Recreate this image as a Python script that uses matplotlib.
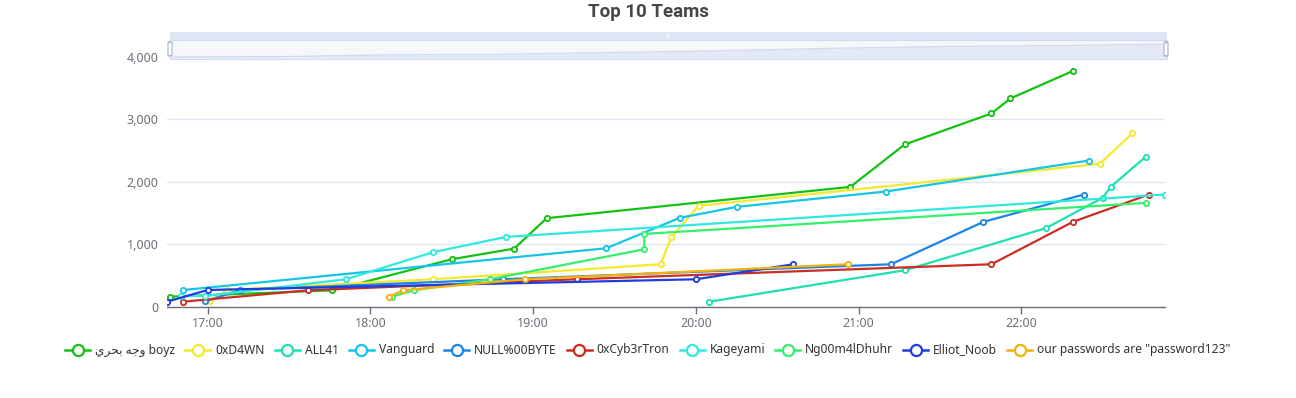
import matplotlib
matplotlib.use("Agg")
import matplotlib.pyplot as plt
import matplotlib.dates as mdates
from matplotlib.patches import Rectangle, FancyBboxPatch, Polygon
from matplotlib.lines import Line2D
from datetime import datetime
import numpy as np

# ---------------- data ----------------
teams = ["وجه بحري boyz", "0xD4WN", "ALL41", "Vanguard", "NULL%00BYTE", "0xCyb3rTron",
         "Kageyami", "Ng00m4lDhuhr", "Elliot_Noob", 'our passwords are "password123"']

boyz_t = ["16:46", "17:46", "18:30", "18:53", "19:05", "20:57", "21:17", "21:49", "21:56", "22:19"]
boyz_v = [165, 267, 763, 933, 1419, 1920, 2597, 3093, 3333, 3771]

d4wn_t = ["17:01", "17:07", "18:23", "19:47", "19:51", "20:01", "22:29", "22:41"]
d4wn_v = [88, 272, 443, 683, 1115, 1616, 2288, 2779]

all41_t = ["20:05", "21:17", "22:09", "22:30", "22:33", "22:46"]
all41_v = [85, 587, 1259, 1744, 1920, 2405]

vanguard_t = ["16:51", "19:27", "19:54", "20:15", "21:10", "22:25"]
vanguard_v = [272, 939, 1424, 1600, 1845, 2341]

null_t = ["16:59", "17:12", "18:49", "21:12", "21:46", "22:23"]
null_v = [88, 272, 443, 683, 1360, 1797]

cyb_t = ["16:51", "17:37", "19:16", "21:49", "22:19", "22:47"]
cyb_v = [85, 267, 443, 683, 1360, 1797]

kage_t = ["16:50", "16:59", "17:51", "18:23", "18:50", "22:53"]
kage_v = [176, 176, 443, 875, 1120, 1797]

ng_t = ["18:08", "18:16", "18:44", "19:41", "19:41", "22:46"]
ng_v = [165, 267, 443, 923, 1168, 1664]

elliot_t = ["16:45", "17:00", "20:00", "20:36"]
elliot_v = [85, 272, 443, 683]

pw_t = ["18:07", "18:12", "18:57", "20:56"]
pw_v = [165, 267, 443, 683]

series_t = [boyz_t, d4wn_t, all41_t, vanguard_t, null_t, cyb_t, kage_t, ng_t, elliot_t, pw_t]
series_v = [boyz_v, d4wn_v, all41_v, vanguard_v, null_v, cyb_v, kage_v, ng_v, elliot_v, pw_v]

colors = ["#12c112", "#f4e92c", "#1fe0b2", "#14c5e6", "#1c84e6", "#cc2d22",
          "#30e9de", "#35f06c", "#1f3ddf", "#f1b20c"]

y_ticks = [0, 1000, 2000, 3000, 4000]
title = "Top 10 Teams"

# display form of Arabic label (shaped presentation forms, visual order)
display_label = {"وجه بحري boyz": "\uFEF1\uFEAE\uFEA4\uFE91 \uFEEA\uFE9F\uFEED boyz"}

# ---------------- figure ----------------
W, H = 1296, 398
fig = plt.figure(figsize=(W / 100, H / 100), dpi=100)
FONT = ["Noto Sans", "DejaVu Sans"]
plt.rcParams["font.family"] = FONT


def fx(px):
    return px / W


def fy(py):
    return 1 - py / H


ax = fig.add_axes([fx(167), fy(307), fx(1165) - fx(167), fy(56.7) - fy(307)])


def to_dt(s):
    h, m = s.split(":")
    return datetime(2024, 1, 1, int(h), int(m))


all_times = []
for ts, vs, c in zip(series_t, series_v, colors):
    x = [to_dt(t) for t in ts]
    all_times += x
    ax.plot(x, vs, color=c, lw=1.6, marker="o", ms=3.8, mfc="white", mec=c, mew=1.3,
            solid_joinstyle="round", zorder=3)

ax.set_xlim(min(all_times), max(all_times))
ax.set_ylim(0, 4000)
ax.set_yticks(y_ticks)
ax.yaxis.set_major_formatter(matplotlib.ticker.FuncFormatter(lambda v, p: f"{int(v):,}"))
ax.xaxis.set_major_locator(mdates.HourLocator())
ax.xaxis.set_major_formatter(mdates.DateFormatter("%H:%M"))

for s in ["top", "right", "left"]:
    ax.spines[s].set_visible(False)
ax.spines["bottom"].set_color("#6e7079")
ax.spines["bottom"].set_linewidth(1)
ax.grid(axis="y", color="#e0e6f1", lw=1)
ax.set_axisbelow(True)
ax.tick_params(axis="y", length=0, labelsize=9, labelcolor="#6e7079", pad=6)
ax.tick_params(axis="x", length=5, width=1, color="#6e7079", labelsize=9,
               labelcolor="#6e7079", pad=2)

fig.text(0.5, fy(12), title, ha="center", va="center", fontsize=13.5, fontweight="bold",
         color="#464646", family=["Roboto", "DejaVu Sans"])

# ---------------- data zoom slider ----------------
sx0, sx1 = 170, 1167
fig.add_artist(Rectangle((fx(sx0), fy(40)), fx(sx1) - fx(sx0), fy(32) - fy(40),
                         transform=fig.transFigure, facecolor="#dfe5f4", edgecolor="none"))
fig.add_artist(Rectangle((fx(sx0), fy(58.5)), fx(sx1) - fx(sx0), fy(40) - fy(58.5),
                         transform=fig.transFigure, facecolor="#f5f7fa", edgecolor="#d2dbee",
                         lw=0.8))
# data shadow from first series (evenly by index)
sv = np.array(boyz_v, dtype=float)
n = len(sv)
xs = fx(sx0) + (fx(sx1) - fx(sx0)) * np.arange(n) / (n - 1)
ys = fy(57.5) + (fy(42) - fy(57.5)) * sv / (sv.max() * 1.15)
poly = np.vstack([np.column_stack([xs, ys]), [[xs[-1], fy(58.5)], [xs[0], fy(58.5)]]])
fig.add_artist(Polygon(poly, closed=True, transform=fig.transFigure, facecolor="#e3e9f5",
                       edgecolor="none"))
fig.add_artist(Line2D(xs, ys, transform=fig.transFigure, color="#d0d9ee", lw=0.8))
for hx in (sx0, sx1 - 1):
    fig.add_artist(FancyBboxPatch((fx(hx - 2), fy(56)), fx(4), fy(42) - fy(56),
                                  boxstyle="round,pad=0,rounding_size=0.002",
                                  transform=fig.transFigure, facecolor="white",
                                  edgecolor="#a9b5c8", lw=0.8))
fig.text(fx(668), fy(36), "III", ha="center", va="center", fontsize=3.5, color="#ffffff")

# ---------------- legend ----------------
fig.canvas.draw()
renderer = fig.canvas.get_renderer()
icon_w, gap_icon, gap_item = 25, 5, 10
ly = fy(350)
texts = []
widths = []
for name in teams:
    t = fig.text(0, ly, display_label.get(name, name), fontsize=8.7, color="#333333",
                 va="center", ha="left", family=FONT)
    bb = t.get_window_extent(renderer)
    texts.append(t)
    widths.append(bb.width)
total = sum(icon_w + gap_icon + w for w in widths) + gap_item * (len(teams) - 1)
x = W / 2 - total / 2
for t, w, c in zip(texts, widths, colors):
    fig.add_artist(Line2D([fx(x), fx(x + icon_w)], [ly, ly], transform=fig.transFigure,
                          color=c, lw=1.8))
    fig.add_artist(Line2D([fx(x + icon_w / 2)], [ly], transform=fig.transFigure, color=c,
                          marker="o", ms=8, mfc="white", mec=c, mew=1.6))
    t.set_x(fx(x + icon_w + gap_icon))
    x += icon_w + gap_icon + w + gap_item

fig.savefig("out.png", dpi=100, facecolor="white")
